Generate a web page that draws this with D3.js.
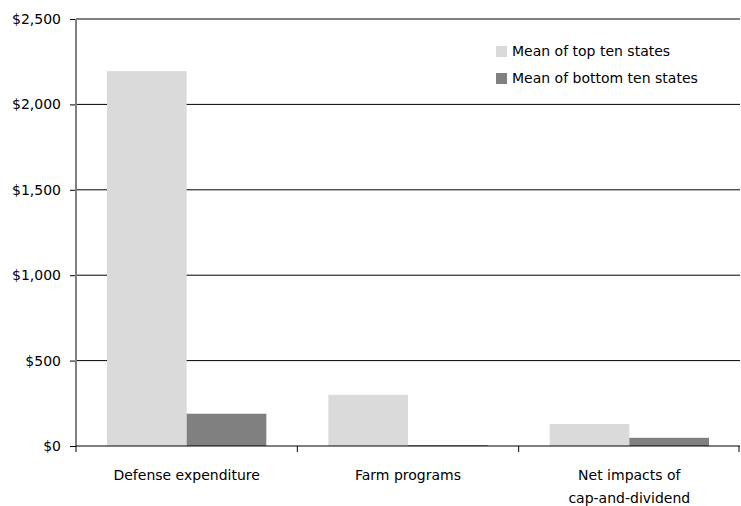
<!DOCTYPE html>
<html>
<head>
<meta charset="utf-8">
<script src="https://cdn.jsdelivr.net/npm/d3@7"></script>
<style>
body{margin:0;background:#fff;}
text{font-family:"DejaVu Sans",sans-serif;fill:#000;}
</style>
</head>
<body>
<script>
// data
var categories = [['Defense expenditure'], ['Farm programs'], ['Net impacts of', 'cap-and-dividend']];
var series = ['Mean of top ten states', 'Mean of bottom ten states'];
var topTen = [2195, 300, 129];
var bottomTen = [189, 5, 48];
var yTicks = [0, 500, 1000, 1500, 2000, 2500];
var colors = ['#dadada', '#808080'];

var width = 741, height = 506,
	margin = {left:76, top:19, right:1, bottom:60},
	g_width = width - margin.left - margin.right,
	g_height = height - margin.top - margin.bottom;

var svg = d3.select('body').append('svg')
	.attr('width', width)
	.attr('height', height);
var g = svg.append('g').attr('transform', 'translate(' + margin.left + ',' + margin.top + ')');

var idx = d3.range(categories.length);
var scale_x = d3.scaleBand().domain(idx).range([0, g_width]).paddingInner(0).paddingOuter(0);
var scale_sub = d3.scaleBand().domain([0, 1]).range([31, scale_x.bandwidth() - 31]);
var scale_y = d3.scaleLinear().domain([0, 2500]).range([g_height, 0]);

// gridlines
g.append('g').selectAll('line').data(yTicks.slice(1)).enter().append('line')
	.attr('x1', 0).attr('x2', g_width)
	.attr('y1', function(d){return scale_y(d);})
	.attr('y2', function(d){return scale_y(d);})
	.attr('stroke', '#000').attr('stroke-width', 1);

// bars
var values = [topTen, bottomTen];
values.forEach(function(vals, s){
	g.append('g').selectAll('rect').data(vals).enter().append('rect')
		.attr('x', function(d, i){return scale_x(i) + scale_sub(s);})
		.attr('width', scale_sub.bandwidth())
		.attr('y', function(d){return scale_y(d);})
		.attr('height', function(d){return g_height - scale_y(d);})
		.attr('fill', colors[s]);
});

// y axis
var y_axis = d3.axisLeft(scale_y).tickValues(yTicks).tickSize(6).tickPadding(9)
	.tickFormat(function(d){return '$' + d3.format(',')(d);});
var yg = g.append('g').call(y_axis);
yg.select('.domain').remove();
yg.selectAll('.tick line').attr('stroke', '#000');
yg.selectAll('.tick text').attr('font-size', '14px').attr('font-family', '"DejaVu Sans",sans-serif');
g.append('line').attr('x1', 0).attr('x2', 0).attr('y1', 0).attr('y2', g_height)
	.attr('stroke', '#808080').attr('stroke-width', 2);

// x axis
g.append('line').attr('x1', 0).attr('x2', g_width).attr('y1', g_height).attr('y2', g_height)
	.attr('stroke', '#000').attr('stroke-width', 1.2);
var bounds = idx.map(function(i){return scale_x(i);}).concat([g_width - 1]);
g.append('g').selectAll('line').data(bounds).enter().append('line')
	.attr('x1', function(d){return d;}).attr('x2', function(d){return d;})
	.attr('y1', g_height).attr('y2', g_height + 6)
	.attr('stroke', '#000');
var labels = g.append('g').selectAll('text').data(categories).enter().append('text')
	.attr('text-anchor', 'middle')
	.attr('font-size', '14px')
	.attr('x', function(d, i){return scale_x(i) + scale_x.bandwidth() / 2;})
	.attr('y', g_height + 34);
labels.selectAll('tspan').data(function(d){return d;}).enter().append('tspan')
	.attr('x', function(){return d3.select(this.parentNode).attr('x');})
	.attr('dy', function(d, i){return i === 0 ? 0 : 23;})
	.text(function(d){return d;});

// legend
var legend = svg.append('g').attr('transform', 'translate(496,46)');
series.forEach(function(name, s){
	var row = legend.append('g').attr('transform', 'translate(0,' + (s * 27) + ')');
	row.append('rect').attr('width', 11).attr('height', 11).attr('fill', colors[s]);
	row.append('text').attr('x', 16).attr('y', 9.5).attr('font-size', '14px').text(name);
});
</script>
</body>
</html>
